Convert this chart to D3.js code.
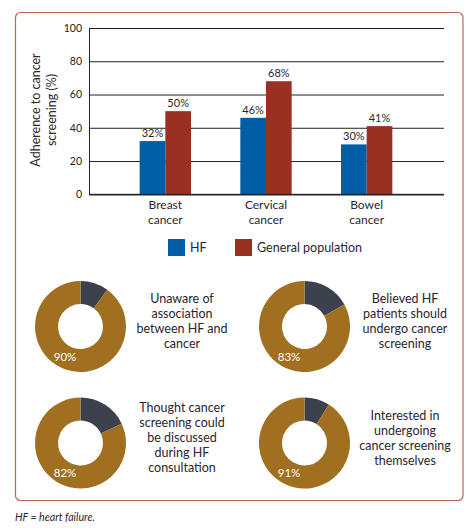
<!DOCTYPE html>
<html>
<head>
<meta charset="utf-8">
<script src="https://cdn.jsdelivr.net/npm/d3@7"></script>
<style>
  html, body { margin: 0; padding: 0; background: #fff; }
  svg { display: block; font-family: Lato, "Open Sans", sans-serif; }
</style>
</head>
<body>
<svg id="chart" width="473" height="530"></svg>
<script>
// ---- data ----
const categories = [["Breast", "cancer"], ["Cervical", "cancer"], ["Bowel", "cancer"]];
const categoryKeys = ["Breast cancer", "Cervical cancer", "Bowel cancer"];
const seriesNames = ["HF", "General population"];
const hfValues = [32, 46, 30];
const generalValues = [50, 68, 41];
const yTicks = [0, 20, 40, 60, 80, 100];
const yTitle = ["Adherence to cancer", "screening (%)"];

const donutValues = [90, 83, 82, 91];
const donutTexts = [
  ["Unaware of", "association", "between HF and", "cancer"],
  ["Believed HF", "patients should", "undergo cancer", "screening"],
  ["Thought cancer", "screening could", "be discussed", "during HF", "consultation"],
  ["Interested in", "undergoing", "cancer screening", "themselves"]
];
const footnote = "HF = heart failure.";

const colors = { HF: "#005ea6", GP: "#9a3022", gold: "#a07020", dark: "#3b414d", text: "#2b2530" };

const svg = d3.select("#chart");

// frame
svg.append("rect")
  .attr("x", 15.5).attr("y", 12.5).attr("width", 447.5).attr("height", 488)
  .attr("rx", 5).attr("ry", 5)
  .attr("fill", "none").attr("stroke", "#c0645a").attr("stroke-width", 1.2);

// ---- bar chart ----
const plot = { left: 89, right: 444, top: 28, bottom: 194.3 };
const y = d3.scaleLinear().domain([0, 100]).range([plot.bottom, plot.top]);
const x0 = d3.scaleBand().domain(categoryKeys).range([115, 417]).paddingInner(0.49).paddingOuter(0.245);
const x1 = d3.scaleBand().domain(seriesNames).range([0, x0.bandwidth()]);

const g = svg.append("g");

// gridlines + axis
const yAxis = d3.axisLeft(y).tickValues(yTicks).tickSize(-(plot.right - plot.left)).tickPadding(7).tickFormat(d3.format("d"));
const ya = g.append("g").attr("transform", `translate(${plot.left},0)`).call(yAxis);
ya.select(".domain").attr("stroke", "#222").attr("stroke-width", 1);
ya.selectAll(".tick line").attr("stroke", "#222").attr("stroke-width", 1);
ya.selectAll(".tick text").attr("font-size", 10.5).attr("fill", "#222").attr("font-family", "Lato, sans-serif");

// bars
const data = categoryKeys.map((k, i) => ({ key: k, vals: [
  { s: "HF", v: hfValues[i], c: colors.HF },
  { s: "General population", v: generalValues[i], c: colors.GP }
]}));

const grp = g.selectAll(".grp").data(data).enter().append("g")
  .attr("transform", d => `translate(${x0(d.key)},0)`);
grp.selectAll("rect").data(d => d.vals).enter().append("rect")
  .attr("x", d => x1(d.s)).attr("width", x1.bandwidth())
  .attr("y", d => y(d.v)).attr("height", d => y(0) - y(d.v))
  .attr("fill", d => d.c);
grp.selectAll("text.val").data(d => d.vals).enter().append("text")
  .attr("class", "val")
  .attr("x", d => x1(d.s) + x1.bandwidth() / 2)
  .attr("y", d => y(d.v) - 4)
  .attr("text-anchor", "middle").attr("font-size", 11).attr("fill", colors.text)
  .text(d => d.v + "%");

// redraw baseline above bars
g.append("line").attr("x1", plot.left).attr("x2", plot.right)
  .attr("y1", y(0)).attr("y2", y(0)).attr("stroke", "#222").attr("stroke-width", 1);

// category labels
categoryKeys.forEach((k, i) => {
  const t = g.append("text").attr("text-anchor", "middle")
    .attr("x", x0(k) + x0.bandwidth() / 2).attr("y", 209)
    .attr("font-size", 12).attr("fill", colors.text);
  categories[i].forEach((line, j) => {
    t.append("tspan").attr("x", x0(k) + x0.bandwidth() / 2).attr("dy", j === 0 ? 0 : 15).text(line);
  });
});

// y title
const yt = g.append("text").attr("text-anchor", "middle")
  .attr("transform", "translate(40,110) rotate(-90)")
  .attr("font-size", 12.5).attr("fill", colors.text);
yTitle.forEach((line, j) => yt.append("tspan").attr("x", 0).attr("dy", j === 0 ? 0 : 16).text(line));

// legend
const legend = [
  { name: seriesNames[0], c: colors.HF, x: 168 },
  { name: seriesNames[1], c: colors.GP, x: 235 }
];
legend.forEach(l => {
  g.append("rect").attr("x", l.x).attr("y", 239).attr("width", 17).attr("height", 17).attr("fill", l.c);
  g.append("text").attr("x", l.x + 22).attr("y", 252).attr("font-size", 12.5).attr("fill", colors.text).text(l.name);
});

// ---- donuts ----
const donutPos = [
  { cx: 80.5, cy: 326.5, tx: 182, ty: 303 },
  { cx: 304.5, cy: 326.5, tx: 405, ty: 303 },
  { cx: 80.5, cy: 443, tx: 182, ty: 412 },
  { cx: 304.5, cy: 443, tx: 405, ty: 420 }
];
const pie = d3.pie().sort(null).value(d => d.v);
const arc = d3.arc().innerRadius(22.5).outerRadius(45.5);

donutValues.forEach((v, i) => {
  const p = donutPos[i];
  const dg = svg.append("g").attr("transform", `translate(${p.cx},${p.cy})`);
  const slices = pie([{ v: 100 - v, c: colors.dark }, { v: v, c: colors.gold }]);
  dg.selectAll("path").data(slices).enter().append("path")
    .attr("d", arc).attr("fill", d => d.data.c);
  dg.append("text").attr("x", -15.5).attr("y", 34).attr("text-anchor", "middle")
    .attr("font-size", 11.5).attr("fill", "#fff").text(v + "%");
  const t = svg.append("text").attr("text-anchor", "middle").attr("x", p.tx).attr("y", p.ty)
    .attr("font-size", 12.5).attr("fill", colors.text);
  donutTexts[i].forEach((line, j) => t.append("tspan").attr("x", p.tx).attr("dy", j === 0 ? 0 : 15).text(line));
});

// footnote
svg.append("text").attr("x", 15).attr("y", 521).attr("font-size", 11).attr("font-style", "italic")
  .attr("fill", colors.text).attr("textLength", 80).attr("lengthAdjust", "spacingAndGlyphs").text(footnote);
</script>
</body>
</html>
